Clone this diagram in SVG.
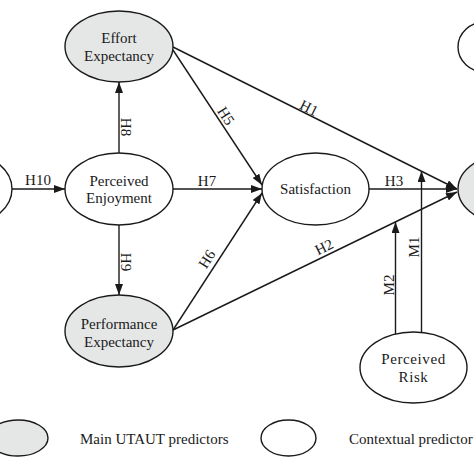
<svg xmlns="http://www.w3.org/2000/svg" width="474" height="474" viewBox="0 0 474 474">
<defs>
<marker id="arr" markerUnits="userSpaceOnUse" markerWidth="11" markerHeight="8" refX="11" refY="4" orient="auto">
<path d="M0,0 L11,4 L0,8 z" fill="#1a1a1a"/>
</marker>
<style>
.n{stroke:#1a1a1a;stroke-width:1.4}
.g{fill:#e5e7e7}
.w{fill:#ffffff}
.t{font-family:"Liberation Serif","Times New Roman",serif;font-size:15px;fill:#1a1a1a;text-anchor:middle}
.l{font-family:"Liberation Serif","Times New Roman",serif;font-size:15px;fill:#1a1a1a}
.c{stroke:#1a1a1a;stroke-width:1.4;fill:none}
.a{marker-end:url(#arr)}
</style>
</defs>
<rect width="474" height="474" fill="#ffffff"/>
<g id="connectors">
<line class="c a" x1="12" y1="189" x2="65" y2="189"/>
<line class="c a" x1="119" y1="153" x2="119" y2="82"/>
<line class="c a" x1="119" y1="225" x2="119" y2="295"/>
<line class="c a" x1="173" y1="189" x2="262" y2="189"/>
<line class="c a" x1="173" y1="50" x2="262" y2="185"/>
<line class="c a" x1="173" y1="330" x2="262" y2="193"/>
<line class="c a" x1="173" y1="47" x2="457" y2="189"/>
<line class="c a" x1="173" y1="330" x2="457" y2="192"/>
<line class="c a" x1="369" y1="189" x2="457" y2="189"/>
<line class="c a" x1="421.5" y1="333" x2="421.5" y2="171"/>
<line class="c a" x1="395.5" y1="334" x2="395.5" y2="222"/>
<text class="t" x="38" y="185">H10</text>
<text class="t" x="207" y="186">H7</text>
<text class="t" x="394" y="186">H3</text>
<text class="t" transform="translate(126,127) rotate(90)" y="5">H8</text>
<text class="t" transform="translate(126,262) rotate(90)" y="5">H9</text>
<text class="t" transform="translate(226,116) rotate(57)" y="5">H5</text>
<text class="t" transform="translate(207,259) rotate(-57.6)" y="5">H6</text>
<text class="t" transform="translate(309,108) rotate(26.6)" y="5">H1</text>
<text class="t" transform="translate(324,247) rotate(-25.9)" y="5">H2</text>
<text class="t" transform="translate(414,247) rotate(-90)" y="5">M1</text>
<text class="t" transform="translate(389,285) rotate(-90)" y="5">M2</text>
</g>
<g id="left-node"><ellipse class="n w" cx="-35" cy="189" rx="47" ry="36"/></g>
<g id="right-node"><ellipse class="n g" cx="512" cy="189" rx="54" ry="36"/></g>
<g id="top-right-node"><ellipse class="n w" cx="485" cy="47" rx="27" ry="25"/></g>
<g id="effort-expectancy">
<ellipse class="n g" cx="119" cy="46.5" rx="54" ry="35.5"/>
<text class="t" x="119" y="43">Effort</text>
<text class="t" x="119" y="61">Expectancy</text>
</g>
<g id="perceived-enjoyment">
<ellipse class="n w" cx="119" cy="189" rx="54" ry="36"/>
<text class="t" x="119" y="185.5">Perceived</text>
<text class="t" x="119" y="203">Enjoyment</text>
</g>
<g id="satisfaction">
<ellipse class="n w" cx="315.5" cy="189" rx="53.5" ry="36"/>
<text class="t" x="315.5" y="194">Satisfaction</text>
</g>
<g id="performance-expectancy">
<ellipse class="n g" cx="119" cy="331" rx="54" ry="36"/>
<text class="t" x="119" y="328.5">Performance</text>
<text class="t" x="119" y="347">Expectancy</text>
</g>
<g id="perceived-risk">
<ellipse class="n w" cx="413.5" cy="367.5" rx="53.5" ry="35.5"/>
<text class="t" x="413.5" y="364" letter-spacing="0.6">Perceived</text>
<text class="t" x="413.5" y="381.5" letter-spacing="0.6">Risk</text>
</g>
<g id="legend">
<ellipse class="n g" cx="18" cy="438" rx="30" ry="18"/>
<text class="l" x="80" y="444">Main UTAUT predictors</text>
<ellipse class="n w" cx="288.5" cy="438" rx="27.5" ry="18"/>
<text class="l" x="349" y="444">Contextual predictor</text>
</g>
</svg>
